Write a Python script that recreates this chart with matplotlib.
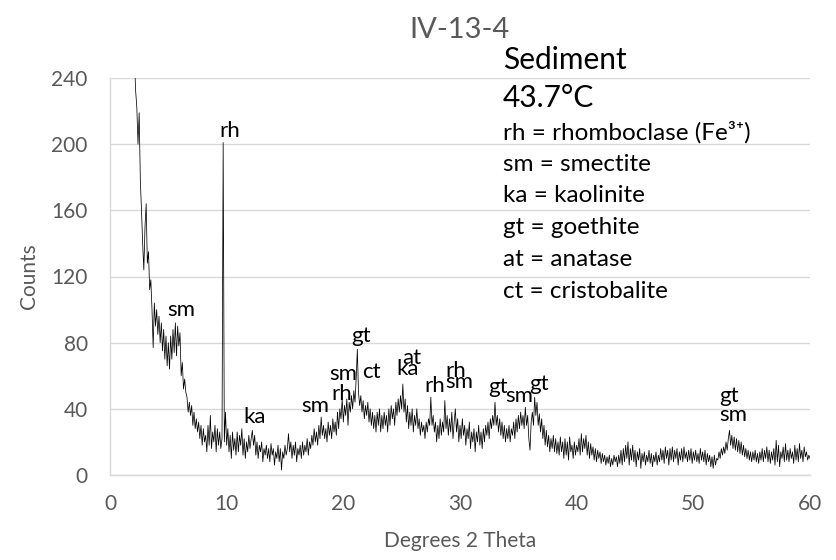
import numpy as np
import matplotlib
matplotlib.use("Agg")
import matplotlib.pyplot as plt

plt.rcParams['font.family'] = ['Lato', 'DejaVu Sans']

# XRD pattern, step 0.1 deg 2-theta starting at 2.0
start_2theta = 2.0
step_2theta = 0.1
counts = [
    300, 250, 232, 222, 200, 219, 178, 160, 140, 124,   # 2
    150, 164, 128, 135, 112, 118, 100, 77, 104, 90,     # 3
    100, 85, 96, 80, 92, 75, 88, 70, 84, 66,            # 4
    80, 64, 84, 70, 88, 74, 92, 72, 90, 78,             # 5
    86, 60, 68, 52, 58, 50, 47, 38, 44, 36,             # 6
    42, 30, 38, 28, 34, 26, 32, 22, 30, 18,             # 7
    28, 20, 24, 14, 30, 18, 36, 16, 26, 20,             # 8
    30, 14, 28, 18, 26, 16, 22, 201, 20, 38,            # 9
    18, 28, 14, 24, 10, 26, 15, 22, 12, 26,             # 10
    14, 24, 18, 28, 12, 22, 10, 20, 14, 24,             # 11
    16, 22, 27, 18, 24, 12, 20, 10, 18, 14,             # 12
    20, 8, 16, 12, 18, 10, 16, 8, 19, 12,               # 13
    16, 6, 14, 10, 18, 8, 16, 3, 14, 10,                # 14
    18, 12, 16, 25, 14, 20, 10, 18, 12, 20,             # 15
    8, 16, 12, 18, 10, 20, 12, 18, 14, 22,              # 16
    12, 20, 16, 24, 18, 28, 20, 26, 18, 30,             # 17
    22, 35, 24, 30, 22, 28, 20, 32, 24, 30,             # 18
    22, 34, 26, 32, 24, 38, 28, 40, 34, 46,             # 19
    32, 42, 36, 46, 30, 44, 38, 48, 40, 51,             # 20
    44, 58, 76, 50, 42, 48, 38, 45, 34, 42,             # 21
    36, 44, 32, 40, 30, 38, 28, 36, 26, 38,             # 22
    30, 40, 26, 36, 28, 38, 30, 36, 26, 40,             # 23
    30, 42, 34, 40, 30, 44, 36, 46, 38, 48,             # 24
    40, 55, 38, 46, 32, 42, 28, 38, 30, 40,             # 25
    26, 36, 30, 40, 28, 34, 24, 32, 26, 30,             # 26
    22, 32, 26, 34, 30, 47, 30, 36, 26, 32,             # 27
    20, 30, 22, 34, 24, 32, 26, 45, 28, 36,             # 28
    24, 34, 26, 38, 22, 32, 40, 26, 34, 20,             # 29
    30, 22, 34, 24, 30, 18, 28, 22, 32, 16,             # 30
    26, 20, 28, 14, 26, 20, 30, 18, 26, 16,             # 31
    28, 20, 30, 24, 32, 22, 34, 28, 36, 30,             # 32
    44, 30, 36, 26, 34, 24, 32, 22, 30, 20,             # 33
    28, 22, 30, 20, 28, 24, 32, 22, 34, 26,             # 34
    36, 28, 38, 30, 36, 28, 41, 30, 36, 22,             # 35
    15, 32, 38, 30, 47, 36, 44, 30, 37, 26,             # 36
    34, 22, 30, 18, 27, 17, 24, 14, 22, 16,             # 37
    24, 14, 22, 13, 20, 12, 23, 14, 20, 10,             # 38
    22, 12, 20, 9, 23, 14, 18, 10, 20, 12,              # 39
    18, 14, 22, 12, 25, 14, 22, 16, 24, 12,             # 40
    20, 10, 19, 12, 17, 9, 16, 8, 15, 10,               # 41
    14, 7, 13, 8, 12, 6, 11, 7, 12, 5,                  # 42
    10, 6, 12, 8, 11, 5, 12, 7, 15, 6,                  # 43
    16, 8, 18, 10, 20, 6, 16, 9, 18, 8,                 # 44
    15, 5, 14, 9, 16, 4, 13, 8, 14, 6,                  # 45
    12, 8, 15, 7, 13, 5, 12, 8, 14, 6,                  # 46
    12, 8, 16, 9, 15, 7, 17, 10, 15, 6,                 # 47
    16, 9, 17, 8, 15, 10, 16, 6, 14, 9,                 # 48
    16, 8, 17, 10, 14, 8, 15, 9, 16, 7,                 # 49
    14, 9, 15, 8, 13, 7, 16, 9, 14, 8,                  # 50
    15, 6, 13, 8, 12, 5, 11, 4, 12, 6,                  # 51
    10, 9, 14, 10, 16, 12, 17, 13, 20, 15,              # 52
    22, 27, 18, 24, 16, 23, 15, 22, 14, 21,             # 53
    13, 20, 12, 18, 11, 16, 10, 15, 9, 14,              # 54
    8, 14, 9, 15, 8, 13, 7, 14, 9, 16,                  # 55
    8, 15, 10, 17, 8, 15, 7, 14, 9, 16,                 # 56
    6, 21, 8, 18, 5, 14, 10, 17, 8, 19,                 # 57
    9, 15, 8, 16, 10, 14, 7, 18, 9, 16,                 # 58
    8, 19, 10, 15, 8, 17, 11, 14, 9, 12,                # 59
    10,                                                 # 60
]

# Peak labels: (text, 2-theta, counts)
peak_labels = ["sm", "rh", "ka", "sm", "sm", "rh", "gt", "ct", "ka", "at",
               "rh", "rh", "sm", "gt", "sm", "gt", "gt", "sm"]
peak_x = [6.1, 10.3, 12.4, 17.6, 20.0, 19.9, 21.5, 22.4, 25.5, 25.9,
          27.8, 29.6, 29.9, 33.3, 35.1, 36.8, 53.1, 53.4]
peak_y = [100, 208, 35, 42, 61, 49, 84, 62, 64, 71,
          54, 63, 56, 53, 48, 55, 48, 36]

legend_lines = ["rh = rhomboclase (Fe\u00b3\u207a)", "sm = smectite", "ka = kaolinite",
                "gt = goethite", "at = anatase", "ct = cristobalite"]

title = "IV-13-4"
sample = "Sediment"
temperature = "43.7\u00b0C"
x_ticks = [0, 10, 20, 30, 40, 50, 60]
y_ticks = [0, 40, 80, 120, 160, 200, 240]

W, H = 836, 560
fig = plt.figure(figsize=(W / 100, H / 100), dpi=100)
ax = fig.add_axes([110 / W, 1 - 475 / H, 700 / W, 397 / H])

x = start_2theta + step_2theta * np.arange(len(counts))
ax.plot(x, counts, color="black", linewidth=0.55)

ax.set_xlim(0, 60)
ax.set_ylim(0, 240)
ax.set_xticks(x_ticks)
ax.set_yticks(y_ticks)
ax.grid(axis="y", color="#d9d9d9", linewidth=1.0)
ax.set_axisbelow(True)
ax.tick_params(length=0, labelsize=15, colors="#595959")
ax.tick_params(axis="x", pad=14)
ax.tick_params(axis="y", pad=16)
for s in ["top", "right"]:
    ax.spines[s].set_visible(False)
ax.spines["bottom"].set_color("#d9d9d9")
ax.spines["left"].set_color("#d9d9d9")
ax.spines["bottom"].set_linewidth(1.0)
ax.spines["left"].set_linewidth(1.0)

ax.set_xlabel("Degrees 2 Theta", fontsize=15, color="#595959", labelpad=12)
ax.set_ylabel("Counts", fontsize=15, color="#595959", labelpad=9)
fig.text(460 / W, 1 - 30 / H, title, fontsize=21, color="#595959", ha="center", va="center")

for t, px_, py_ in zip(peak_labels, peak_x, peak_y):
    ax.text(px_, py_, t, fontsize=16, color="black", ha="center", va="center")

fig.text(503 / W, 1 - 60 / H, sample, fontsize=21.5, color="black", ha="left", va="center")
fig.text(503 / W, 1 - 98 / H, temperature, fontsize=21.5, color="black", ha="left", va="center")
ys = [132, 164, 196, 228, 260, 292]
for t, yy in zip(legend_lines, ys):
    fig.text(503 / W, 1 - yy / H, t, fontsize=17.5, color="black", ha="left", va="center")

fig.savefig("out.png", dpi=100)
